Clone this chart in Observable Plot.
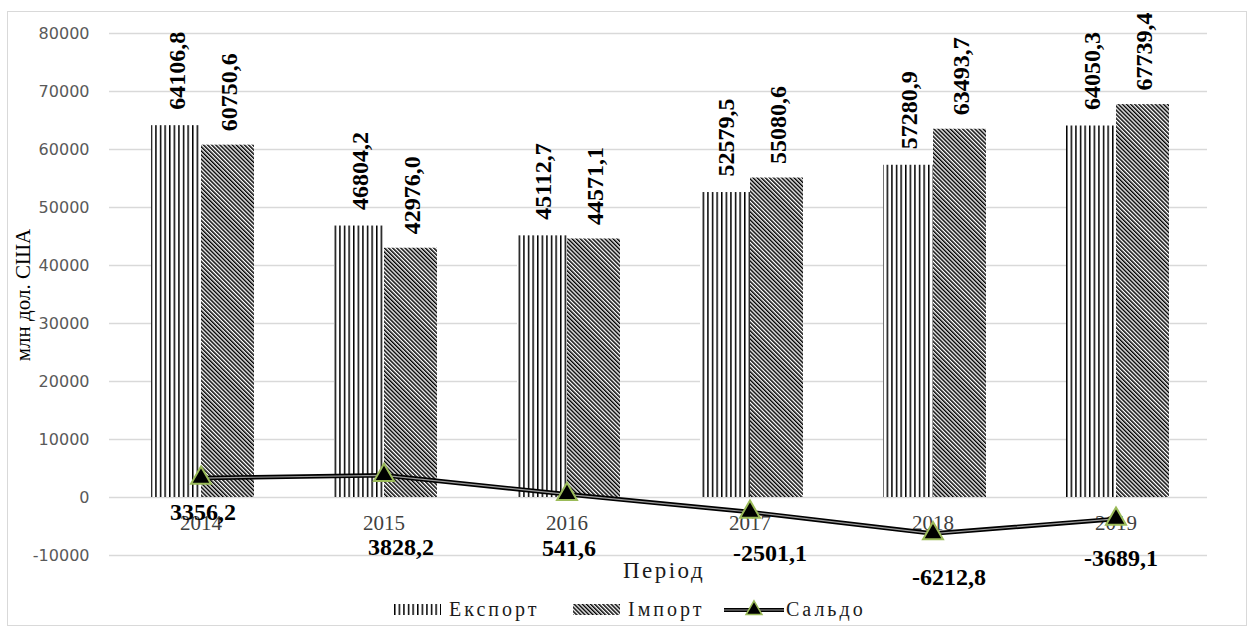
<!DOCTYPE html>
<html>
<head>
<meta charset="utf-8">
<script src="https://cdn.jsdelivr.net/npm/d3@7"></script>
<script src="https://cdn.jsdelivr.net/npm/@observablehq/plot@0.6"></script>
<style>
  html, body { margin: 0; padding: 0; background: #fff; }
  #frame { position: absolute; left: 7px; top: 11px; width: 1238px; height: 613px; border: 1px solid #d9d9d9; background: #fff; }
  #chart { position: absolute; left: 0; top: 0; }
  #legend { position: absolute; left: 0; top: 586px; width: 1238px; height: 22px; font-family: 'Liberation Serif', 'Times New Roman', serif; font-size: 20px; color: #1a1a1a; }
  #legend .item { position: absolute; top: 0; height: 22px; display: flex; align-items: center; }
  #legend .lbl { letter-spacing: 3px; margin-left: 8px; line-height: 22px; }
  g[aria-label="x-labels"] text { letter-spacing: 1.5px; }
  g[aria-label="saldo-labels"] text { letter-spacing: 2px; }
</style>
</head>
<body>
<div id="frame">
  <div id="chart"></div>
  <div id="legend"></div>
</div>
<script>
// ---- data ----
const years = ["2014", "2015", "2016", "2017", "2018", "2019"];
const exportVals = [64106.8, 46804.2, 45112.7, 52579.5, 57280.9, 64050.3];
const importVals = [60750.6, 42976.0, 44571.1, 55080.6, 63493.7, 67739.4];
const saldoVals = [3356.2, 3828.2, 541.6, -2501.1, -6212.8, -3689.1];
const yTicks = [-10000, 0, 10000, 20000, 30000, 40000, 50000, 60000, 70000, 80000];
const seriesNames = ["Експорт", "Імпорт", "Сальдо"];
const yTitle = "млн дол. США";
const xTitle = "Період";

// label offsets (style, px) for the balance labels
const saldoLabelDx = [2, 17, 2, 20, 16, 5];
const saldoLabelDy = [34, 72, 54, 41, 44, 39];

const rows = years.map((year, i) => ({ year, exp: exportVals[i], imp: importVals[i], saldo: saldoVals[i], i }));
const fmt = v => v.toFixed(1).replace(".", ",");

const serif = "'Liberation Serif', 'Times New Roman', serif";

const plot = Plot.plot({
  width: 1238,
  height: 580,
  marginLeft: 101,
  marginRight: 39,
  marginTop: 21,
  marginBottom: 37,
  style: { fontFamily: serif, background: "transparent", overflow: "visible" },
  x: { type: "band", domain: years, paddingInner: 0, paddingOuter: 0, axis: null },
  y: { domain: [-10000, 80000], axis: null },
  marks: [
    Plot.gridY(yTicks, { stroke: "#d9d9d9", strokeOpacity: 1, strokeWidth: 1.3 }),
    Plot.axisY(yTicks, { tickSize: 0, tickPadding: 20, tickFormat: d => String(d), fontFamily: "DejaVu Sans", fontSize: 16, color: "#595959", label: null }),
    Plot.barY(rows, { x: "year", y: "exp", fill: "url(#pat-exp)", insetLeft: 42, insetRight: 91 }),
    Plot.barY(rows, { x: "year", y: "imp", fill: "url(#pat-imp)", insetLeft: 92, insetRight: 38 }),
    Plot.text(rows, { x: "year", y: "exp", text: d => fmt(d.exp), rotate: -90, textAnchor: "start", lineAnchor: "middle", dx: -24, dy: -16, fontSize: 24, fontWeight: "bold", fill: "#000" }),
    Plot.text(rows, { x: "year", y: "imp", text: d => fmt(d.imp), rotate: -90, textAnchor: "start", lineAnchor: "middle", dx: 28, dy: -14, fontSize: 24, fontWeight: "bold", fill: "#000" }),
    Plot.text(rows, { x: "year", y: () => 0, text: "year", dy: 26, lineAnchor: "middle", fontSize: 21, fill: "#404040", ariaLabel: "x-labels" }),
    Plot.line(rows, { x: "year", y: "saldo", stroke: "#000", strokeWidth: 4.5 }),
    Plot.line(rows, { x: "year", y: "saldo", stroke: "#9a9a9a", strokeWidth: 1.2 }),
    Plot.dot(rows, { x: "year", y: "saldo", symbol: "triangle", r: 7.4, fill: "#000", stroke: "#9bbb59", strokeWidth: 2 }),
    ...rows.map((r, i) => Plot.text([r], { x: "year", y: "saldo", text: d => fmt(d.saldo), dx: saldoLabelDx[i], dy: saldoLabelDy[i], lineAnchor: "middle", fontSize: 24, fontWeight: "bold", fill: "#000", ariaLabel: "saldo-labels" }))
  ]
});

// patterns
const svg = d3.select(plot);
const defs = svg.insert("defs", ":first-child");
function addPatterns(defs, suffix) {
  const pe = defs.append("pattern").attr("id", "pat-exp" + suffix).attr("patternUnits", "userSpaceOnUse").attr("width", 4.6).attr("height", 10);
  pe.append("rect").attr("width", 4.6).attr("height", 10).attr("fill", "#fff");
  pe.append("rect").attr("x", 0).attr("width", 1.5).attr("height", 10).attr("fill", "#000");
  const pi = defs.append("pattern").attr("id", "pat-imp" + suffix).attr("patternUnits", "userSpaceOnUse").attr("width", 2.9).attr("height", 10).attr("patternTransform", "rotate(-45)");
  pi.append("rect").attr("width", 2.9).attr("height", 10).attr("fill", "#fff");
  pi.append("rect").attr("x", 0).attr("width", 1.5).attr("height", 10).attr("fill", "#000");
}
addPatterns(defs, "");

// axis titles
svg.append("text")
  .attr("transform", "translate(17,283) rotate(-90)")
  .attr("text-anchor", "middle")
  .attr("dominant-baseline", "middle")
  .attr("font-size", 21)
  .attr("fill", "#000")
  .text(yTitle);
svg.append("text")
  .attr("x", 656).attr("y", 561)
  .attr("text-anchor", "middle")
  .attr("dominant-baseline", "middle")
  .attr("font-size", 23)
  .attr("letter-spacing", "2.5px")
  .attr("fill", "#1a1a1a")
  .text(xTitle);

document.getElementById("chart").appendChild(plot);

// legend
const legend = d3.select("#legend");
const lefts = [386, 565, 716];
seriesNames.forEach((name, i) => {
  const item = legend.append("div").attr("class", "item").style("left", lefts[i] + "px");
  if (i < 2) {
    const s = item.append("svg").attr("width", 47).attr("height", 11);
    const d = s.append("defs");
    addPatterns(d, "-lg");
    s.append("rect").attr("width", 47).attr("height", 11).attr("fill", i === 0 ? "url(#pat-exp-lg)" : "url(#pat-imp-lg)");
  } else {
    const s = item.append("svg").attr("width", 60).attr("height", 20);
    s.append("line").attr("x1", 0).attr("x2", 60).attr("y1", 11).attr("y2", 11).attr("stroke", "#000").attr("stroke-width", 4);
    s.append("line").attr("x1", 0).attr("x2", 60).attr("y1", 11).attr("y2", 11).attr("stroke", "#9a9a9a").attr("stroke-width", 1);
    s.append("path").attr("d", d3.symbol(d3.symbolTriangle, 110)()).attr("transform", "translate(30,11)").attr("fill", "#000").attr("stroke", "#9bbb59").attr("stroke-width", 1.5);
  }
  item.append("span").attr("class", "lbl").style("margin-left", i === 2 ? "2px" : "8px").text(name);
});
</script>
</body>
</html>
